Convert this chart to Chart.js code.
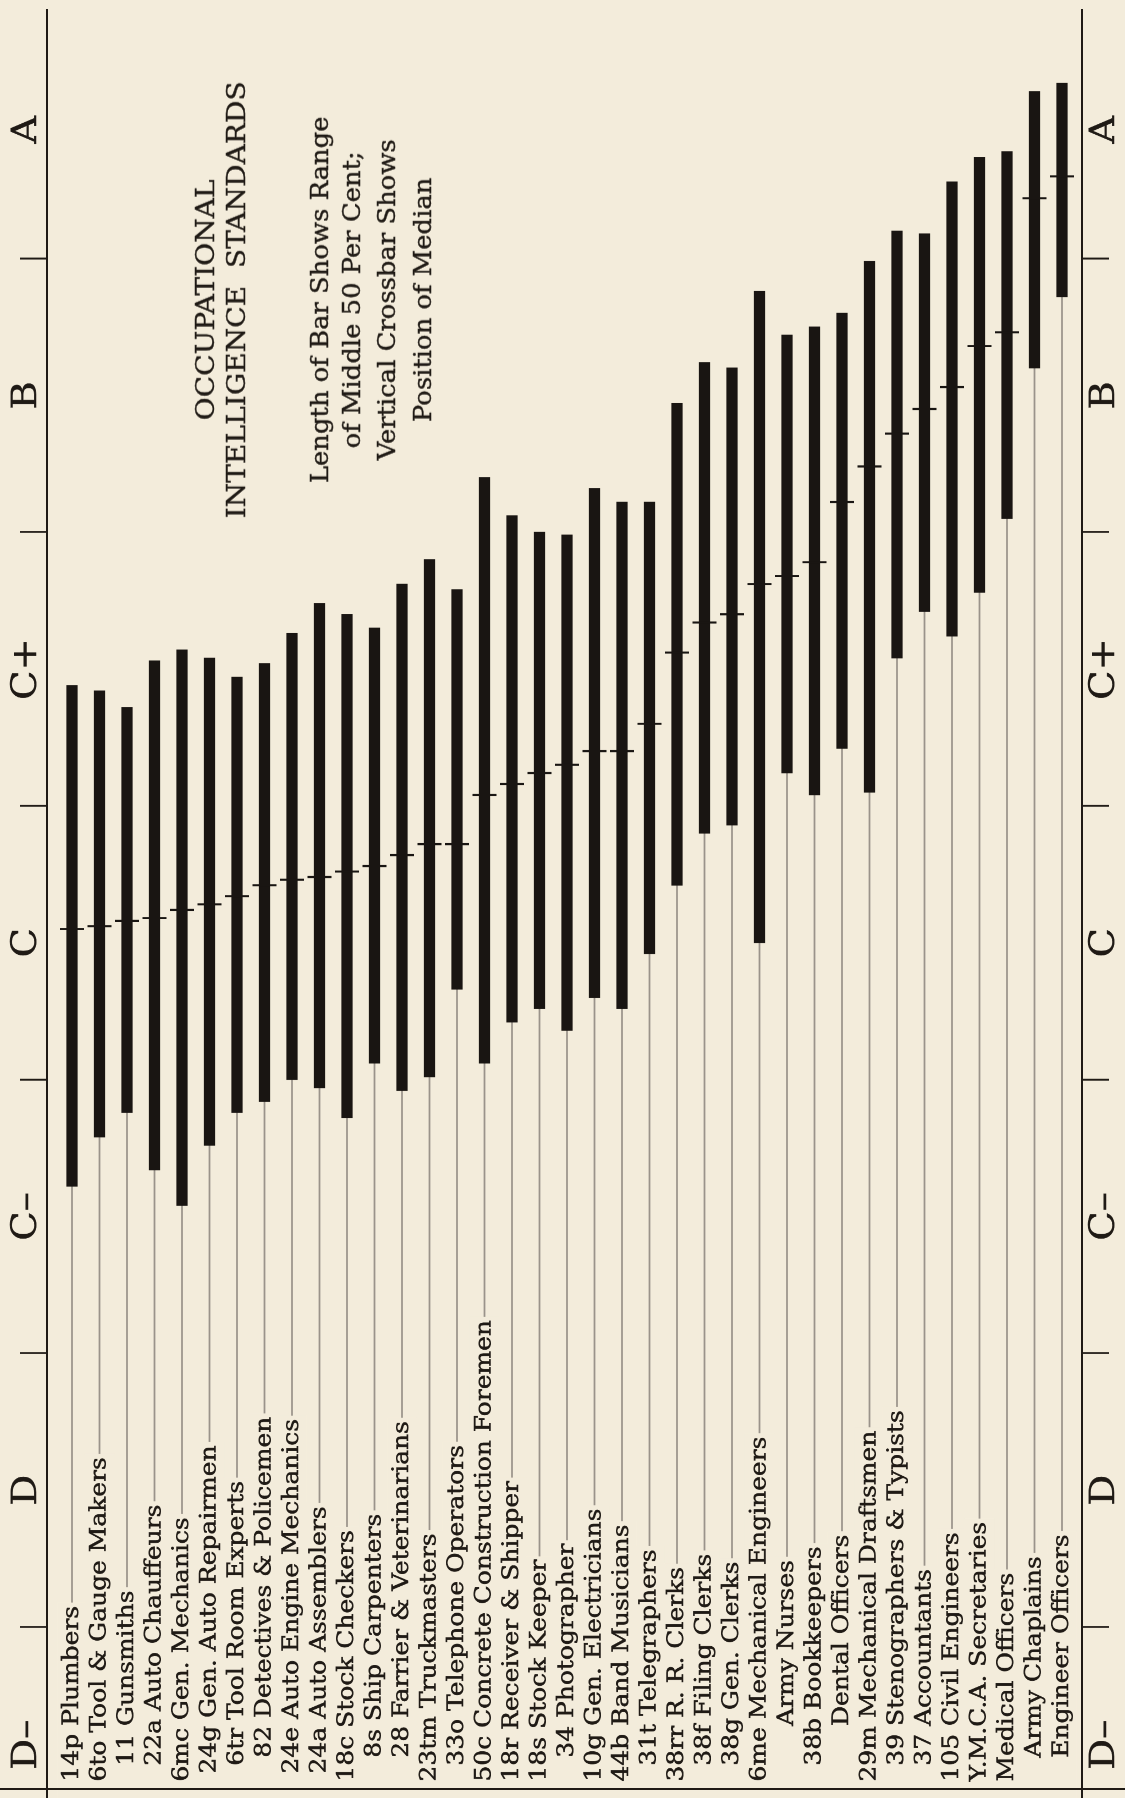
<!DOCTYPE html>
<html>
<head>
<meta charset="utf-8">
<script src="https://cdn.jsdelivr.net/npm/chart.js@4.4.1/dist/chart.umd.min.js"></script>
<style>
html,body{margin:0;padding:0;background:#f3ecdb;overflow:hidden;}
body{width:1125px;height:1798px;position:relative;}
#rot{position:absolute;left:0;top:0;width:1635px;height:1125px;transform-origin:0 0;transform:translate(0px,1798px) rotate(-90deg) scale(1.1,1);}
#rot canvas{position:absolute;left:0;top:0;}
.t{position:absolute;left:1112px;width:500px;text-align:center;font-family:"DejaVu Serif",serif;color:#1f1a15;white-space:nowrap;line-height:24px;-webkit-text-stroke:0.35px #1f1a15;}
.cap{font-size:25.5px;word-spacing:8px;}
.sub{font-size:23.5px;}
#border{position:absolute;left:0;top:1788px;width:1125px;height:2px;background:#1f1a15;}
</style>
</head>
<body>
<div id="rot">
  <canvas id="c" width="1635" height="1125"></canvas>
  <div class="t cap" style="top:193px">OCCUPATIONAL</div>
  <div class="t cap" style="top:224px">INTELLIGENCE STANDARDS</div>
  <div class="t sub" style="top:308px">Length of Bar Shows Range</div>
  <div class="t sub" style="top:340px">of Middle 50 Per Cent;</div>
  <div class="t sub" style="top:375px">Vertical Crossbar Shows</div>
  <div class="t sub" style="top:411px">Position of Median</div>
</div>
<div id="border"></div>
<script>
// ---- data ----
const occupations = [
  "14p Plumbers",
  "6to Tool & Gauge Makers",
  "  11 Gunsmiths",
  "  22a Auto Chauffeurs",
  "6mc Gen. Mechanics",
  " 24g Gen. Auto Repairmen",
  "  6tr Tool Room Experts",
  "   82 Detectives & Policemen",
  " 24e Auto Engine Mechanics",
  " 24a Auto Assemblers",
  "18c Stock Checkers",
  "   8s Ship Carpenters",
  "   28 Farrier & Veterinarians",
  "23tm Truckmasters",
  "  33o Telephone Operators",
  "50c Concrete Construction Foremen",
  "18r Receiver & Shipper",
  "18s Stock Keeper",
  "   34 Photographer",
  "10g Gen. Electricians",
  "44b Band Musicians",
  "  31t Telegraphers",
  "38rr R. R. Clerks",
  "  38f Filing Clerks",
  "  38g Gen. Clerks",
  "6me Mechanical Engineers",
  "       Army Nurses",
  "  38b Bookkeepers",
  "       Dental Officers",
  "29m Mechanical Draftsmen",
  "  39 Stenographers & Typists",
  "  37 Accountants",
  "105 Civil Engineers",
  "Y.M.C.A. Secretaries",
  "Medical Officers",
  "   Army Chaplains",
  "   Engineer Officers"
];
// grade scale: D- 0..1, D 1..2, C- 2..3, C 3..4, C+ 4..5, B 5..6, A 6..7
const lowerQuartile = [2.61,2.79,2.88,2.67,2.54,2.76,2.88,2.92,3.00,2.97,2.86,3.06,2.96,3.01,3.33,3.06,3.21,3.26,3.18,3.30,3.26,3.46,3.71,3.90,3.93,3.50,4.12,4.04,4.21,4.05,4.54,4.71,4.62,4.78,5.05,5.60,5.86];
const upperQuartile = [4.44,4.42,4.36,4.53,4.57,4.54,4.47,4.52,4.63,4.74,4.70,4.65,4.81,4.90,4.79,5.20,5.06,5.00,4.99,5.16,5.11,5.11,5.47,5.62,5.60,5.88,5.72,5.75,5.80,5.99,6.10,6.09,6.28,6.37,6.39,6.61,6.64];
const medians = [3.55,3.56,3.58,3.59,3.62,3.64,3.67,3.71,3.73,3.74,3.76,3.78,3.82,3.86,3.86,4.04,4.08,4.12,4.15,4.20,4.20,4.30,4.56,4.67,4.70,4.81,4.84,4.89,5.11,5.24,5.36,5.45,5.53,5.68,5.73,6.22,6.30];
const gradeBoundaries = [1,2,3,4,5,6];
const gradeLabels = ["D–","D","C–","C","C+","B","A"];
const gradeLabelValues = [0.57,1.5,2.5,3.5,4.5,5.5,6.47];
const scaleMin = 0.375, scaleMax = 6.910;

// ---- chart ----
const ink = "#1f1a15";
const barInk = "#191512";
const paper = "#f3ecdb";
const serif = "'DejaVu Serif', serif";

function gradeTicks(scale){
  const vals = gradeBoundaries.concat(gradeLabelValues).sort((a,b)=>a-b);
  scale.ticks = vals.map(v => ({value: v}));
}
function gradeText(v){
  const k = gradeLabelValues.indexOf(v);
  return k >= 0 ? gradeLabels[k] : "";
}
function gradeAxis(position, pad, h){
  return {
    type: "linear", position: position, min: scaleMin, max: scaleMax, offset: false,
    afterBuildTicks: gradeTicks,
    afterFit: (s) => { s.height = h; },
    grid: {
      display: true, drawOnChartArea: false, drawTicks: true, tickLength: 27, tickWidth: 1.7,
      tickColor: (ctx) => (ctx.tick && gradeBoundaries.includes(ctx.tick.value)) ? ink : "rgba(0,0,0,0)"
    },
    border: {display: true, color: ink, width: 2},
    ticks: {
      autoSkip: false, maxRotation: 0, minRotation: 0, padding: pad,
      font: {family: serif, size: 35}, color: ink,
      textStrokeColor: ink, textStrokeWidth: 0.4,
      callback: (v) => gradeText(v)
    }
  };
}

const rows = occupations.map((_, i) => i);

new Chart(document.getElementById("c"), {
  type: "bar",
  data: {
    datasets: [
      {
        label: "leader",
        data: rows.map(i => ({x: [scaleMin, lowerQuartile[i]], y: i})),
        backgroundColor: "#9a938a",
        barThickness: 1.1, maxBarThickness: 1.1,
        grouped: false, borderWidth: 0, xAxisID: "x", yAxisID: "y", order: 3
      },
      {
        label: "Middle 50 per cent",
        data: rows.map(i => ({x: [lowerQuartile[i], upperQuartile[i]], y: i})),
        backgroundColor: barInk,
        barThickness: 10.5, maxBarThickness: 10.5,
        grouped: false, borderWidth: 0, xAxisID: "x", yAxisID: "y", order: 2
      },
      {
        type: "line",
        label: "Median",
        data: rows.map(i => ({x: medians[i], y: i})),
        showLine: false,
        pointStyle: "line", rotation: 90, pointRadius: 12, pointHoverRadius: 12,
        borderColor: barInk, pointBorderColor: barInk, pointBorderWidth: 1.9, borderWidth: 1.9,
        xAxisID: "x", yAxisID: "y", order: 1
      }
    ]
  },
  options: {
    indexAxis: "y",
    responsive: false,
    animation: false,
    devicePixelRatio: 2,
    layout: {autoPadding: false, padding: {top: 0, bottom: 0, left: 0, right: 9}},
    plugins: {legend: {display: false}, tooltip: {enabled: false}},
    scales: {
      x: gradeAxis("top", -28, 47),
      x2: gradeAxis("bottom", -25, 43),
      y: {
        type: "linear", position: "left", reverse: true, offset: false,
        min: -0.909, max: 36.727,
        afterBuildTicks: (s) => { s.ticks = rows.map(i => ({value: i})); },
        afterFit: (s) => { s.width = 0; },
        grid: {display: false, drawTicks: false},
        border: {display: false},
        ticks: {
          mirror: true, z: 1, padding: 15, autoSkip: false,
          font: {family: serif, size: 22.7}, color: ink,
          textStrokeColor: ink, textStrokeWidth: 0.45,
          showLabelBackdrop: true, backdropColor: paper,
          backdropPadding: {left: 15, right: 3, top: 1, bottom: 1},
          callback: (v) => occupations[v]
        }
      }
    }
  }
});
</script>
</body>
</html>
